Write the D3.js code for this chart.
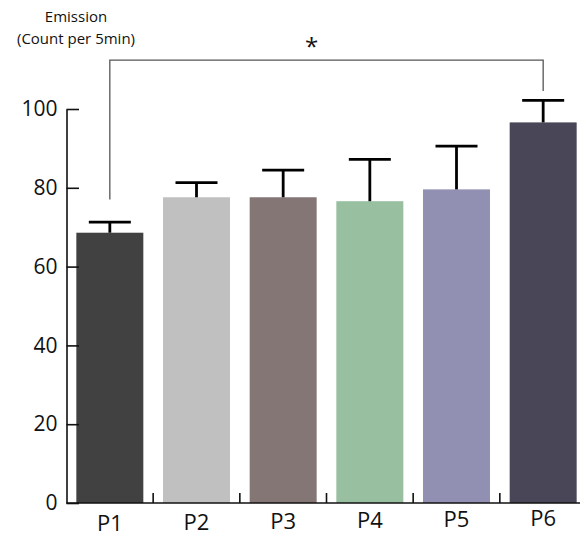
<!DOCTYPE html>
<html>
<head>
<meta charset="utf-8">
<script src="https://cdn.jsdelivr.net/npm/d3@7"></script>
<style>
  body { margin: 0; background: #fff; }
  text { font-family: "Open Sans", "Noto Sans", sans-serif; fill: #111; }
</style>
</head>
<body>
<script>
// data
const groups = ["P1", "P2", "P3", "P4", "P5", "P6"];
const means  = [68.6, 77.6, 77.6, 76.6, 79.6, 96.6];
const errors = [2.7, 3.7, 6.9, 10.6, 11.0, 5.6];
const colors = ["#414141", "#c0c0c0", "#857676", "#98bfa0", "#9290b2", "#494658"];
const yTicks = [0, 20, 40, 60, 80, 100];
// significance bracket: from, to, top level, left/right end levels
const sigPair = ["P1", "P6"];
const sigLevels = [112.4, 77, 104.6];

const W = 580, H = 537;
const svg = d3.select("body").append("svg")
  .attr("width", W).attr("height", H);

const x = d3.scaleBand().domain(groups)
  .range([66.5, 586.5]).paddingInner(0.227).paddingOuter(0.1135);
const y = d3.scaleLinear().domain([0, 100]).range([503, 109]);

// bars
svg.selectAll(".bar").data(groups).enter().append("rect")
  .attr("class", "bar")
  .attr("x", d => x(d))
  .attr("width", x.bandwidth())
  .attr("y", (d, i) => y(means[i]))
  .attr("height", (d, i) => y(0) - y(means[i]))
  .attr("fill", (d, i) => colors[i]);

// error bars (upper only)
const eb = svg.append("g").attr("stroke", "#000").attr("stroke-width", 2.8);
groups.forEach((g, i) => {
  const cx = x(g) + x.bandwidth() / 2;
  eb.append("line").attr("x1", cx).attr("x2", cx)
    .attr("y1", y(means[i])).attr("y2", y(means[i] + errors[i]));
  eb.append("line").attr("x1", cx - 21).attr("x2", cx + 21)
    .attr("y1", y(means[i] + errors[i])).attr("y2", y(means[i] + errors[i]));
});

// y axis
const yAxis = svg.append("g")
  .attr("transform", "translate(66.5,0)")
  .call(d3.axisLeft(y).tickValues(yTicks).tickSizeInner(-12.5).tickSizeOuter(0).tickPadding(9));
yAxis.select(".domain").attr("stroke", "#111").attr("stroke-width", 1.6);
yAxis.selectAll(".tick line").attr("stroke", "#111").attr("stroke-width", 1.6);
yAxis.selectAll(".tick text").attr("font-size", 21).attr("font-family", null).attr("fill", "#111");

// x axis line + boundary ticks
svg.append("line")
  .attr("x1", 66.5).attr("x2", W).attr("y1", y(0)).attr("y2", y(0))
  .attr("stroke", "#111").attr("stroke-width", 1.6);
svg.selectAll(".xtick").data(groups.slice(1)).enter().append("line")
  .attr("class", "xtick")
  .attr("x1", d => x(d) - x.step() * x.paddingInner() / 2)
  .attr("x2", d => x(d) - x.step() * x.paddingInner() / 2)
  .attr("y1", y(0)).attr("y2", y(0) - 10)
  .attr("stroke", "#111").attr("stroke-width", 1.6);

// x labels
svg.selectAll(".xlab").data(groups).enter().append("text")
  .attr("class", "xlab")
  .attr("x", d => x(d) + x.bandwidth() / 2)
  .attr("y", (d, i) => 530.5 - i * 0.9)
  .attr("text-anchor", "middle")
  .attr("font-size", 22)
  .text(d => d);

// significance bracket
const bx0 = x(sigPair[0]) + x.bandwidth() / 2;
const bx1 = x(sigPair[1]) + x.bandwidth() / 2;
svg.append("path")
  .attr("d", `M${bx0},${y(sigLevels[1])}V${y(sigLevels[0])}H${bx1}V${y(sigLevels[2])}`)
  .attr("fill", "none").attr("stroke", "#555").attr("stroke-width", 1.3);
svg.append("text")
  .attr("x", 311.5).attr("y", 55)
  .attr("text-anchor", "middle")
  .attr("font-size", 24)
  .text("*");

// axis title
const title = svg.append("text").attr("text-anchor", "middle").attr("font-size", 15);
title.append("tspan").attr("x", 76).attr("y", 22).text("Emission");
title.append("tspan").attr("x", 76).attr("y", 43.5).text("(Count per 5min)");
</script>
</body>
</html>
